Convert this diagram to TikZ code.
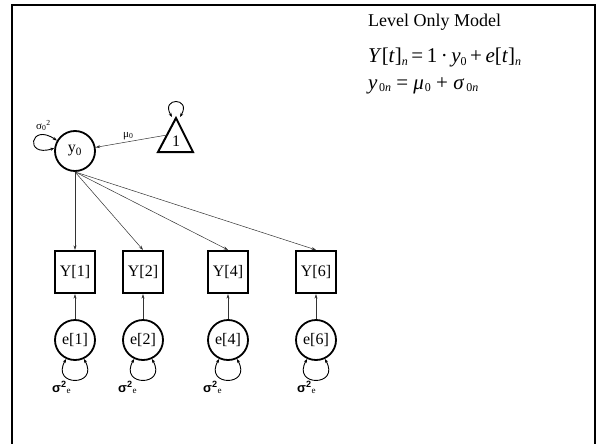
\documentclass[tikz,border=0pt]{standalone}
\usepackage{fontspec}
\setmainfont{Liberation Serif}
\newfontfamily\greekbold{Liberation Sans}
\usetikzlibrary{arrows.meta}

\newcommand{\eqsub}[1]{\raisebox{-0.12em}{\fontsize{12}{12}\selectfont #1}}

\tikzset{
	latent/.style={draw,circle,line width=1.8pt,minimum size=40pt,inner sep=0pt,font=\fontsize{16}{18}\selectfont},
	manifest/.style={draw,rectangle,line width=2.2pt,minimum width=40pt,minimum height=42pt,inner sep=0pt,font=\fontsize{16}{18}\selectfont},
	path/.style={line width=0.5pt,black!80,-{Stealth[length=4.5pt,width=3pt]}},
	variance/.style={line width=0.9pt,{Stealth[length=4pt,width=3pt]}-{Stealth[length=4pt,width=3pt]}},
	smalllabel/.style={inner sep=0pt,anchor=base west,font=\fontsize{11}{12}\selectfont},
	errlabel/.style={inner sep=0pt,anchor=base west,font=\fontsize{13}{14}\selectfont},
	eqtext/.style={inner sep=0pt,anchor=base west,font=\fontsize{21}{24}\selectfont}
}

\begin{document}
\begin{tikzpicture}[x=1pt,y=-1pt]
	
	\useasboundingbox (0,0) rectangle (602,444);
	\draw[line width=2pt][black](12,450)--(12,5)--(595,5)--(595,450);
	
	% model text
	\node[inner sep=0pt,anchor=base west,font=\fontsize{18}{20}\selectfont] (title) at (368,27) {Level Only Model};
	\node[eqtext] (eqone) at (368,63) {\textit{Y}[\textit{t}]\eqsub{\textit{n}}\,=\,1\,·\,\textit{y}\eqsub{0}\,+\,\textit{e}[\textit{t}]\eqsub{\textit{n}}};
	\node[eqtext] (eqtwo) at (368,89) {\textit{y}\kern1.5pt\eqsub{0\textit{n}} = \textit{μ}\kern1pt\eqsub{0} + \textit{σ}\kern2pt\eqsub{0\textit{n}}};
	
	% level and constant
	\node[latent] (y0) at (75,151) {y\textsubscript{0}};
	\draw[line width=2pt][black](158,152)--(176,118)--(193,152)--cycle;
	\node[inner sep=0pt,font=\fontsize{16}{18}\selectfont] (one) at (176,141) {1};
	\coordinate (oneside) at (167,135);
	\coordinate (apexL) at (172,117);
	\coordinate (apexR) at (180,117);
	
	\draw[variance](apexL) .. controls (160,97) and (192,97) .. (apexR);
	\draw[path](oneside)--(y0.10);
	\node[smalllabel] (mu) at (123,137) {μ\textsubscript{0}};
	
	\draw[variance](y0.150) .. controls (30,122) and (24,158) .. (y0.172);
	\node[smalllabel] (sig0) at (36,129) {σ\textsubscript{0}\textsuperscript{2}};
	
	% observed scores
	\node[manifest] (Y1) at (75,272) {Y[1]};
	\node[manifest] (Y2) at (143,272) {Y[2]};
	\node[manifest] (Y4) at (228,272) {Y[4]};
	\node[manifest] (Y6) at (316,272) {Y[6]};
	
	\draw[path](y0.south)--(Y1.north);
	\draw[path](y0.south)--(Y2.north);
	\draw[path](y0.south)--(Y4.north);
	\draw[path](y0.south)--(Y6.north);
	
	% errors
	\node[latent] (e1) at (75,340) {e[1]};
	\node[latent] (e2) at (143,340) {e[2]};
	\node[latent] (e4) at (228,340) {e[4]};
	\node[latent] (e6) at (316,340) {e[6]};
	
	\draw[path](e1.north)--(Y1.south);
	\draw[path](e2.north)--(Y2.south);
	\draw[path](e4.north)--(Y4.south);
	\draw[path](e6.north)--(Y6.south);
	
	\draw[variance](e1.245) .. controls +(-16,28) and +(16,28) .. (e1.295);
	\draw[variance](e2.245) .. controls +(-16,28) and +(16,28) .. (e2.295);
	\draw[variance](e4.245) .. controls +(-16,28) and +(16,28) .. (e4.295);
	\draw[variance](e6.245) .. controls +(-16,28) and +(16,28) .. (e6.295);
	
	\node[errlabel] (s1) at (52,392) {\greekbold\bfseries σ\textsuperscript{2}\textsubscript{\rmfamily\mdseries e}};
	\node[errlabel] (s2) at (118,392) {\greekbold\bfseries σ\textsuperscript{2}\textsubscript{\rmfamily\mdseries e}};
	\node[errlabel] (s4) at (203,392) {\greekbold\bfseries σ\textsuperscript{2}\textsubscript{\rmfamily\mdseries e}};
	\node[errlabel] (s6) at (297,392) {\greekbold\bfseries σ\textsuperscript{2}\textsubscript{\rmfamily\mdseries e}};
	
\end{tikzpicture}
\end{document}
